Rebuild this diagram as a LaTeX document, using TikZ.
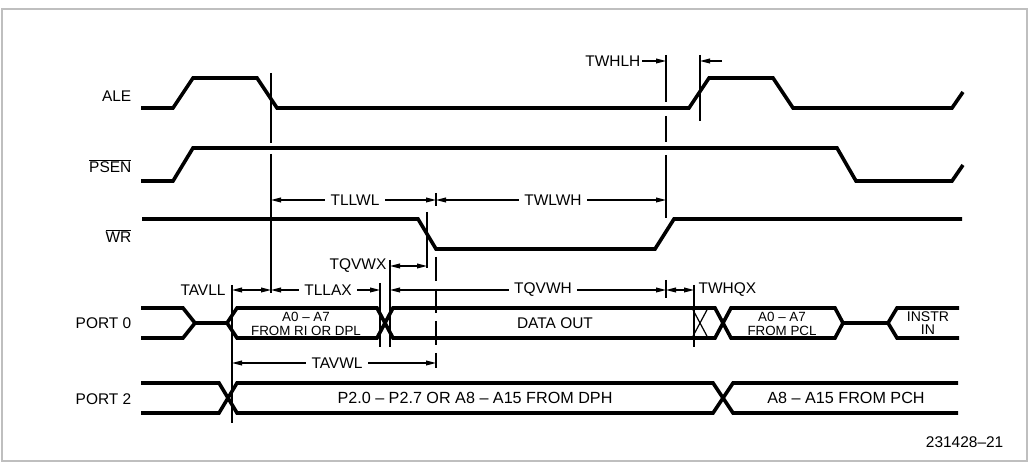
\documentclass[tikz,border=0pt]{standalone}
\usepackage{fontspec}
\setmainfont{Liberation Sans}
\usetikzlibrary{arrows.meta,positioning}

\begin{document}
\begin{tikzpicture}[
  x=0.25mm, y=-0.25mm,
  sig/.style={line width=0.9mm, line join=miter, miter limit=4},
  guide/.style={line width=0.3mm},
  dim/.style={{Triangle[length=2.5mm,width=1.2mm]}-{Triangle[length=2.5mm,width=1.2mm]}, line width=0.3mm},
  tip/.style={-{Triangle[length=2.5mm,width=1.2mm]}, line width=0.3mm},
  lbl/.style={font=\fontsize{11}{12}\selectfont, inner sep=1pt},
  tag/.style={lbl, fill=white, inner sep=4pt},
  busbox/.style={font=\fontsize{9.5}{10}\selectfont, align=center, inner sep=0pt}
]
  \useasboundingbox (0,0) rectangle (1029,462);
  \draw[black!25, line width=0.3mm] (2,9) rectangle (1027,461);

  % reference lines
  \coordinate (avll) at (232,0);
  \coordinate (llfall) at (271,0);
  \coordinate (llax) at (380,0);
  \coordinate (qvwx) at (390,0);
  \coordinate (wlow) at (427,0);
  \coordinate (wlwh) at (436,0);
  \coordinate (whigh) at (666,0);
  \coordinate (whqx) at (694,0);
  \coordinate (alerise) at (700,0);

  % signal names
  \node[lbl, anchor=east] (ale) at (133,96) {ALE};
  \node[lbl, anchor=east] (psen) at (133,166) {$\overline{\mbox{PSEN}}$};
  \node[lbl, anchor=east] (wr) at (133,236) {$\overline{\mbox{WR}}$};
  \node[lbl, anchor=east] (port0) at (133,323) {PORT 0};
  \node[lbl, anchor=east] (port2) at (133,399) {PORT 2};

  % waveforms
  \draw[sig] (141,108) -- (173,108) -- (193,78) -- (257,78) -- (277,108) -- (689,108)
    -- (709,78) -- (773,78) -- (793,108) -- (952,108) -- (963,92);
  \draw[sig] (141,181) -- (173,181) -- (193,148) -- (837,148) -- (856,181) -- (952,181) -- (963,165);
  \draw[sig] (142,219) -- (418,219) -- (436,249) -- (655,249) -- (674,219) -- (962,219);

  \draw[sig] (141,308) -- (183,308) -- (195,323) -- (227,323) -- (237,308) -- (377,308) -- (393,338)
    -- (715,338) -- (731,308) -- (835,308) -- (843,323) -- (888,323) -- (897,308) -- (959,308);
  \draw[sig] (141,338) -- (183,338) -- (195,323);
  \draw[sig] (227,323) -- (237,338) -- (377,338) -- (393,308)
    -- (715,308) -- (731,338) -- (835,338) -- (843,323);
  \draw[sig] (888,323) -- (897,338) -- (959,338);
  \draw[guide] (692,308) -- (708,338) (692,338) -- (708,308);

  \draw[sig] (141,383) -- (219,383) -- (237,413) -- (713,413) -- (733,383) -- (958,383);
  \draw[sig] (141,413) -- (219,413) -- (237,383) -- (713,383) -- (733,413) -- (958,413);

  % bus contents
  \node[busbox] (rdpl) at (306,324) {A0 -- A7\\FROM RI OR DPL};
  \node[lbl] (dout) at (555,323) {DATA OUT};
  \node[busbox] (pcl) at (782,324) {A0 -- A7\\FROM PCL};
  \node[busbox, font=\fontsize{10}{9.5}\selectfont] (instr) at (928,323) {INSTR\\IN};
  \node[lbl, font=\fontsize{11.5}{12}\selectfont] (dph) at (475,398) {P2.0 -- P2.7 OR A8 -- A15 FROM DPH};
  \node[lbl, font=\fontsize{11.5}{12}\selectfont] (pch) at (846,398) {A8 -- A15 FROM PCH};

  % vertical marks
  \draw[guide] (llfall |- 0,73) -- (llfall |- 0,143) (llfall |- 0,154) -- (llfall |- 0,293);
  \draw[guide] (wlwh |- 0,193) -- (wlwh |- 0,206);
  \draw[guide, dash pattern=on 6mm off 2mm] (wlwh |- 0,257) -- (wlwh |- 0,368);
  \draw[guide] (whigh |- 0,55) -- (whigh |- 0,102) (whigh |- 0,116) -- (whigh |- 0,142)
    (whigh |- 0,155) -- (whigh |- 0,218) (whigh |- 0,280) -- (whigh |- 0,298);
  \draw[guide] (alerise |- 0,55) -- (alerise |- 0,121);
  \draw[guide] (wlow |- 0,212) -- (wlow |- 0,268);
  \draw[guide] (qvwx |- 0,260) -- (qvwx |- 0,347);
  \draw[guide] (llax |- 0,283) -- (llax |- 0,347);
  \draw[guide] (avll |- 0,285) -- (avll |- 0,423);
  \draw[guide] (whqx |- 0,285) -- (whqx |- 0,347);

  % timing parameters
  \draw[dim] (llfall |- 0,200) -- (wlwh |- 0,200);
  \node[tag] (tllwl) at (355,200) {TLLWL};
  \draw[dim] (wlwh |- 0,200) -- (whigh |- 0,200);
  \node[tag] (twlwh) at (553,200) {TWLWH};

  \node[lbl, anchor=east] (twhlh) at (642,61) {TWHLH};
  \draw[tip] (twhlh.east) -- (whigh |- 0,61);
  \draw[tip] (722,61) -- (alerise |- 0,61);

  \node[lbl] (tqvwx) at (358,266) {TQVWX};
  \draw[dim] (qvwx |- 0,266) -- (wlow |- 0,266);

  \node[lbl] (tavll) at (203,290) {TAVLL};
  \draw[dim] (avll |- 0,290) -- (llfall |- 0,290);
  \draw[dim] (llfall |- 0,290) -- (llax |- 0,290);
  \node[tag] (tllax) at (328,290) {TLLAX};
  \draw[dim] (qvwx |- 0,290) -- (whigh |- 0,290);
  \node[tag] (tqvwh) at (543,290) {TQVWH};
  \draw[dim] (whigh |- 0,290) -- (whqx |- 0,290);
  \node[lbl, anchor=west] (twhqx) at (697,290) {TWHQX};

  \draw[dim] (avll |- 0,363) -- (wlwh |- 0,363);
  \node[tag] (tavwl) at (337,363) {TAVWL};

  \node[lbl, anchor=east] (fig) at (1005,442) {231428--21};
\end{tikzpicture}
\end{document}
